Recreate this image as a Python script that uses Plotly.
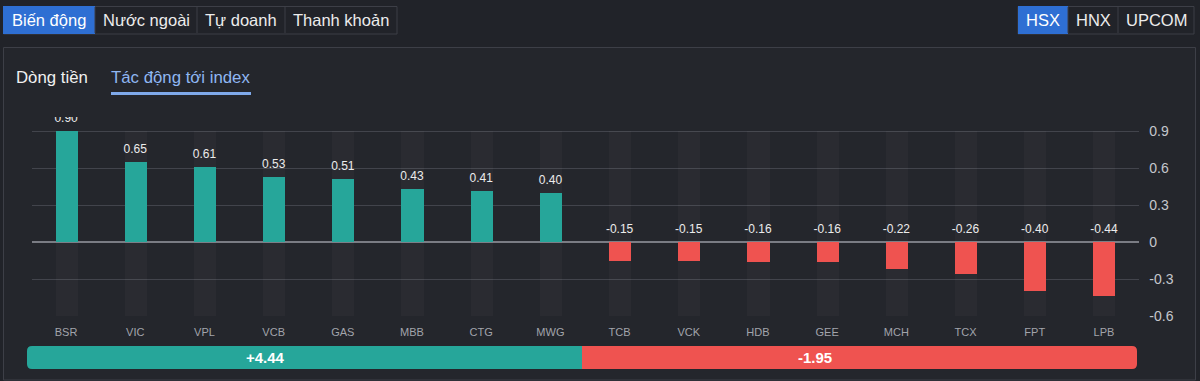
import plotly.graph_objects as go

# ---------------- data ----------------
tickers = ["BSR", "VIC", "VPL", "VCB", "GAS", "MBB", "CTG", "MWG",
           "TCB", "VCK", "HDB", "GEE", "MCH", "TCX", "FPT", "LPB"]
impact = [0.90, 0.65, 0.61, 0.53, 0.51, 0.43, 0.41, 0.40,
          -0.15, -0.15, -0.16, -0.16, -0.22, -0.26, -0.40, -0.44]
total_up = 4.44
total_down = -1.95
y_ticks = [-0.6, -0.3, 0, 0.3, 0.6, 0.9]
y_tick_labels = ["-0.6", "-0.3", "0", "0.3", "0.6", "0.9"]
top_tabs = ["Biến động", "Nước ngoài", "Tự doanh", "Thanh khoản"]
exch_tabs = ["HSX", "HNX", "UPCOM"]
sub_tabs = ["Dòng tiền", "Tác động tới index"]

# ---------------- style ----------------
W, H = 1200, 381
PAGE_BG = "#212329"
PANEL_BG = "#24262c"
BORDER = "#3d3f47"
GREEN = "#26a69a"
RED = "#ef5350"
BLUE = "#2e6fd3"
FONT = "Liberation Sans, Arial, sans-serif"


def px(x):
    return x / W


def py(y):
    return 1 - y / H


shapes = []
annotations = []


def rect(x0, y0, x1, y1, fill=None, line=None, lw=1):
    shapes.append(dict(type="rect", xref="paper", yref="paper",
                       x0=px(x0), x1=px(x1), y0=py(y1), y1=py(y0),
                       fillcolor=fill or "rgba(0,0,0,0)",
                       line=dict(color=line or "rgba(0,0,0,0)", width=lw if line else 0),
                       layer="below"))


def text(x, y, s, size=15, color="#e6e6e6", xanchor="center", bold=False):
    annotations.append(dict(xref="paper", yref="paper", x=px(x), y=py(y),
                            text=f"<b>{s}</b>" if bold else s, showarrow=False,
                            xanchor=xanchor, yanchor="middle", borderpad=0,
                            font=dict(family=FONT, size=size, color=color)))


# panel
rect(3.5, 47.5, 1195.5, 380, fill=PANEL_BG, line=BORDER)

# top tab group
tab_edges = [3, 95, 197, 285, 397]
rect(3.5, 6.5, 397, 34, line=BORDER)
rect(3, 6, 95, 34, fill=BLUE)
for i, name in enumerate(top_tabs):
    if 0 < i:
        shapes.append(dict(type="line", xref="paper", yref="paper",
                           x0=px(tab_edges[i]), x1=px(tab_edges[i]), y0=py(7), y1=py(33),
                           line=dict(color=BORDER, width=1)))
    text((tab_edges[i] + tab_edges[i + 1]) / 2, 20, name, size=16.5,
         color="#ffffff" if i == 0 else "#ececec")

# exchange tabs
ex_edges = [1018, 1068, 1118, 1194]
rect(1018, 6.5, 1194, 34, line=BORDER)
rect(1018, 6, 1068, 34, fill=BLUE)
for i, name in enumerate(exch_tabs):
    if 0 < i:
        shapes.append(dict(type="line", xref="paper", yref="paper",
                           x0=px(ex_edges[i]), x1=px(ex_edges[i]), y0=py(7), y1=py(33),
                           line=dict(color=BORDER, width=1)))
    text((ex_edges[i] + ex_edges[i + 1]) / 2, 20, name, size=16.5,
         color="#ffffff" if i == 0 else "#ececec")

# sub tabs
text(14.5, 77, sub_tabs[0], size=16.8, color="#f0f0f0", xanchor="left")
text(109.5, 77, sub_tabs[1], size=16.8, color="#8fb6f2", xanchor="left")
rect(111, 92, 251, 95, fill="#7fa9ea")

# summary bar (rounded ends)
r = 5
y0b, y1b = 346, 369
xg0, xm, xr1 = 27, 582, 1137
green_path = (f"M {px(xm)},{py(y0b)} L {px(xg0 + r)},{py(y0b)} "
              f"Q {px(xg0)},{py(y0b)} {px(xg0)},{py(y0b + r)} "
              f"L {px(xg0)},{py(y1b - r)} Q {px(xg0)},{py(y1b)} {px(xg0 + r)},{py(y1b)} "
              f"L {px(xm)},{py(y1b)} Z")
red_path = (f"M {px(xm)},{py(y0b)} L {px(xr1 - r)},{py(y0b)} "
            f"Q {px(xr1)},{py(y0b)} {px(xr1)},{py(y0b + r)} "
            f"L {px(xr1)},{py(y1b - r)} Q {px(xr1)},{py(y1b)} {px(xr1 - r)},{py(y1b)} "
            f"L {px(xm)},{py(y1b)} Z")
shapes.append(dict(type="path", xref="paper", yref="paper", path=green_path,
                   fillcolor=GREEN, line=dict(width=0), layer="below"))
shapes.append(dict(type="path", xref="paper", yref="paper", path=red_path,
                   fillcolor=RED, line=dict(width=0), layer="below"))
text(265, 357.5, f"+{total_up:.2f}", size=15, color="#ffffff", bold=True)
text(815, 357.5, f"{total_down:.2f}", size=15, color="#ffffff", bold=True)

# ---------------- chart ----------------
y_top_val = y_ticks[-1]
y_bot_val = y_ticks[0]
colors = [GREEN if v >= 0 else RED for v in impact]

fig = go.Figure()
# faint column strips
fig.add_trace(go.Bar(x=tickers, y=[y_top_val - y_bot_val] * len(tickers),
                     base=[y_bot_val] * len(tickers), width=0.32,
                     marker=dict(color="rgba(255,255,255,0.028)", line=dict(width=0)),
                     hoverinfo="skip", showlegend=False))
fig.add_trace(go.Bar(x=tickers, y=impact, width=0.32,
                     marker=dict(color=colors, line=dict(width=0)),
                     showlegend=False))
fig.add_trace(go.Scatter(x=tickers, y=[max(v, 0) for v in impact], mode="markers+text",
                         marker=dict(size=8, color="rgba(0,0,0,0)"),
                         text=[f"{v:.2f}" for v in impact], textposition="top center",
                         textfont=dict(family=FONT, size=12, color="#ececec"),
                         cliponaxis=True, showlegend=False, hoverinfo="skip"))

px_per_unit = 37 / 0.3
y_range_top = y_top_val + (131 - 117) / px_per_unit

fig.update_layout(
    width=W, height=H, margin=dict(l=0, r=0, t=0, b=0, autoexpand=False),
    paper_bgcolor=PAGE_BG, plot_bgcolor="rgba(0,0,0,0)",
    barmode="overlay", bargap=0,
    shapes=shapes, annotations=annotations,
    font=dict(family=FONT),
    xaxis=dict(domain=[px(31.5), px(1138.5)], range=[-0.5, len(tickers) - 0.5],
               showgrid=False, zeroline=False, automargin=False,
               showline=False, ticks="outside", ticklen=6, tickcolor="rgba(0,0,0,0)",
               tickfont=dict(size=11, color="#a2a4ab", family=FONT),
               fixedrange=True),
    yaxis=dict(domain=[py(316), py(117)], range=[y_bot_val, y_range_top],
               side="right", tickvals=y_ticks, ticktext=y_tick_labels,
               showgrid=True, gridcolor="#42444c", gridwidth=1, automargin=False,
               zeroline=True, zerolinecolor="#7a7c84", zerolinewidth=2,
               ticks="outside", ticklen=7, tickcolor="rgba(0,0,0,0)",
               tickfont=dict(size=14, color="#c4c6cc", family=FONT),
               fixedrange=True),
)

fig.write_html("out.html")
